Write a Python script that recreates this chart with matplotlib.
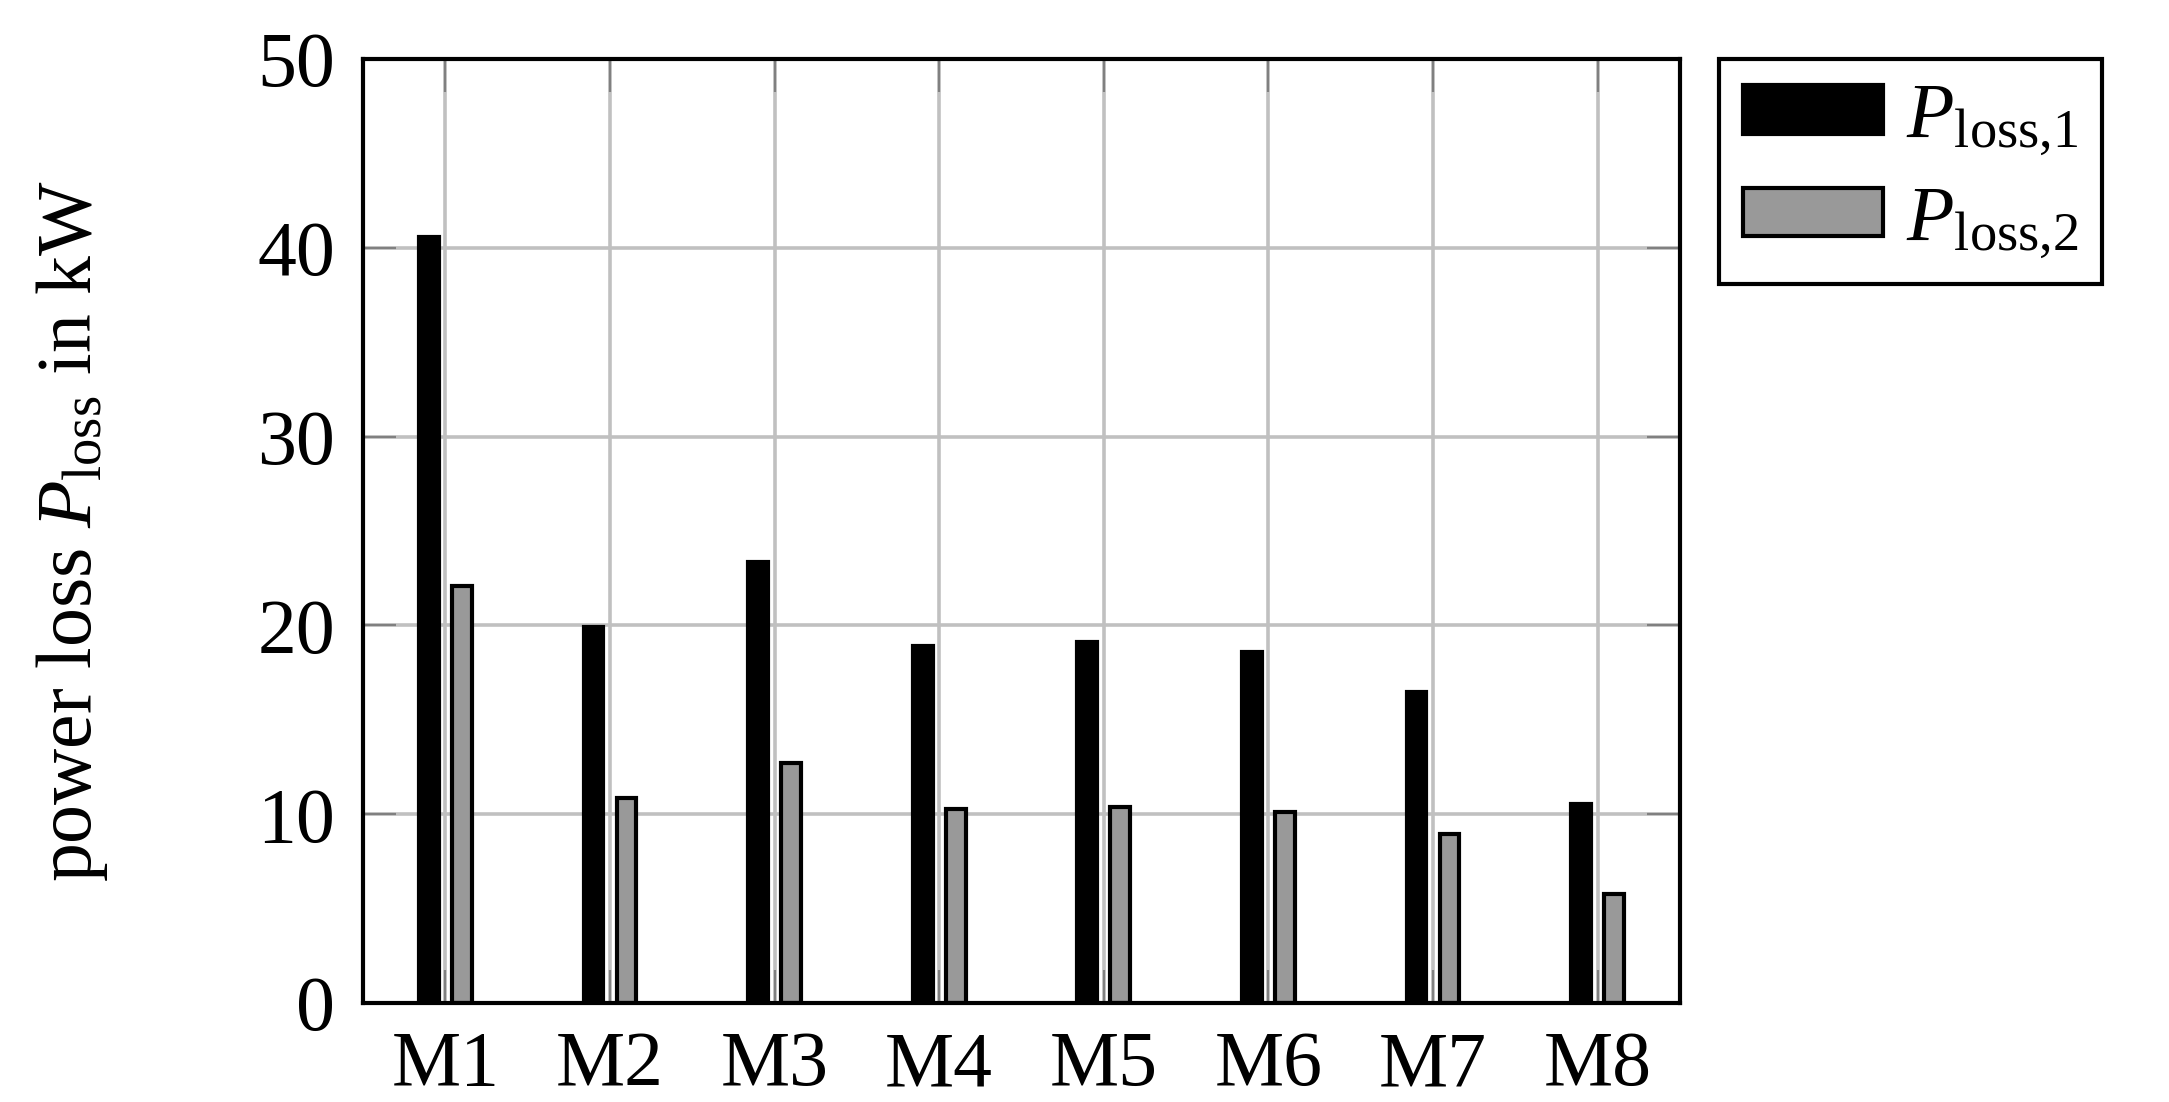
import numpy as np
import matplotlib
matplotlib.use("Agg")
import matplotlib.pyplot as plt

# ── Données ───────────────────────────────────────────────────────────────────
machines = ["M1", "M2", "M3", "M4", "M5", "M6", "M7", "M8"]
p_loss_1 = [40.6, 19.9, 23.35, 18.9, 19.1, 18.6, 16.45, 10.55]
p_loss_2 = [22.1, 10.85, 12.7, 10.3, 10.4, 10.1, 8.95, 5.8]
y_ticks = [0, 10, 20, 30, 40, 50]

# ── Style ─────────────────────────────────────────────────────────────────────
plt.rcParams["font.family"] = ["Liberation Serif", "DejaVu Serif"]
plt.rcParams["mathtext.fontset"] = "custom"
plt.rcParams["mathtext.rm"] = "Liberation Serif"
plt.rcParams["mathtext.it"] = "Liberation Serif:italic"
FS = 56

fig = plt.figure(figsize=(21.69, 11.02), dpi=100)
ax = fig.add_axes([0.1674, 0.0898, 0.6071, 0.8566])

x = np.arange(1, len(machines) + 1)
w = 0.12
ax.bar(x - 0.1, p_loss_1, width=w, color="black", edgecolor="black",
       linewidth=3, label=r"$P_{\mathrm{loss{,}1}}$", zorder=3)
ax.bar(x + 0.1, p_loss_2, width=w, color="#999999", edgecolor="black",
       linewidth=3, label=r"$P_{\mathrm{loss{,}2}}$", zorder=3)

ax.set_xlim(0.5, len(machines) + 0.5)
ax.set_ylim(0, 50)
ax.set_xticks(x)
ax.set_xticklabels(machines)
ax.set_yticks(y_ticks)

# grille gris clair sous les barres
ax.grid(True, color="#c0c0c0", linewidth=2.6)
ax.set_axisbelow(True)
ax.tick_params(axis="both", direction="in", length=24, width=1.6,
               color="#808080", labelsize=FS, pad=20,
               top=True, right=True)
for sp in ax.spines.values():
    sp.set_linewidth(3)
    sp.set_zorder(4)

ax.set_ylabel(r"power loss $P_{\mathrm{loss}}$ in kW", fontsize=FS)
ax.yaxis.set_label_coords(-0.192, 0.5)

leg = ax.legend(loc="upper left", bbox_to_anchor=(1.03, 1.0), borderaxespad=0,
                fontsize=FS, fancybox=False, edgecolor="black",
                handlelength=1.8, handleheight=0.58, handletextpad=0.3,
                labelspacing=0.35, borderpad=0.3, framealpha=1)
leg.get_frame().set_linewidth(3)

fig.savefig("out.png", dpi=100)
